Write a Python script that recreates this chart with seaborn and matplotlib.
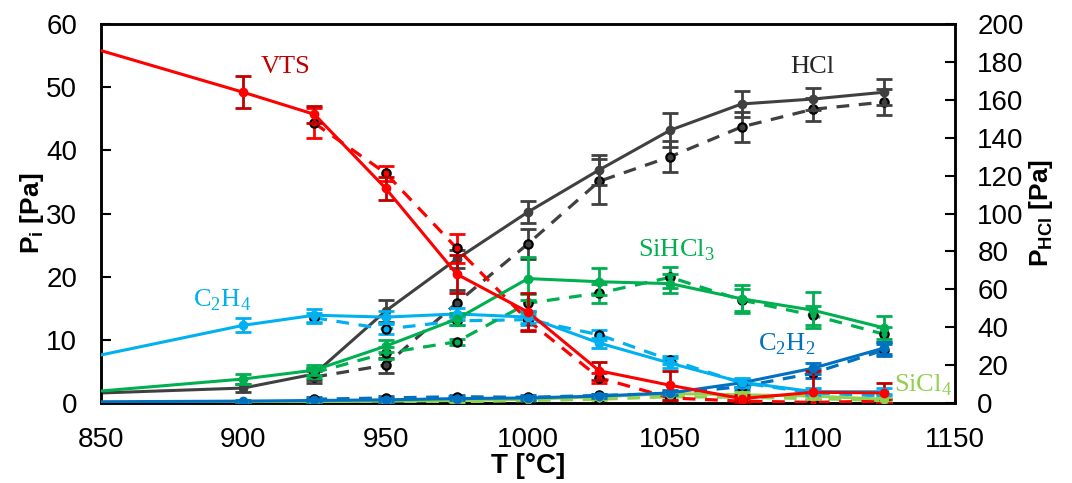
import numpy as np
import pandas as pd
import seaborn as sns
import matplotlib
matplotlib.use("Agg")
import matplotlib.pyplot as plt

# temperatures
T_model = [850, 900, 925, 950, 975, 1000, 1025, 1050, 1075, 1100, 1125]
T_exp = [925, 950, 975, 1000, 1025, 1050, 1075, 1100, 1125]

# solid series (first value at 850 has no marker)
vts = [55.8, 49.2, 45.7, 34.0, 20.4, 14.4, 5.1, 2.8, 0.7, 1.7, 1.6]
vts_err = [0, 2.5, 1.3, 1.8, 3.0, 3.0, 1.4, 2.3, 0.5, 3.3, 1.6]
c2h4 = [7.6, 12.3, 13.9, 13.6, 14.1, 13.6, 9.5, 6.3, 3.3, 1.8, 1.8]
c2h4_err = [0, 1.1, 1.0, 1.0, 0.9, 0.9, 0.8, 0.8, 0.7, 0.5, 0.5]
sihcl3 = [1.9, 3.8, 5.2, 9.0, 13.3, 19.7, 19.2, 18.9, 16.5, 14.7, 11.9]
sihcl3_err = [0, 0.8, 0.8, 1.0, 1.0, 3.4, 2.1, 1.5, 2.2, 2.9, 1.8]
c2h2 = [0.2, 0.3, 0.4, 0.5, 0.7, 0.8, 1.1, 1.6, 3.2, 5.5, 8.7]
c2h2_err = [0, 0.2, 0.3, 0.3, 0.3, 0.3, 0.3, 0.4, 0.6, 0.9, 0.9]
sicl4 = [0.1, 0.1, 0.2, 0.3, 0.4, 0.6, 1.0, 1.5, 1.3, 1.1, 0.6]
sicl4_err = [0, 0.2, 0.2, 0.2, 0.2, 0.2, 0.3, 0.3, 0.4, 0.4, 0.4]
hcl = [5.3, 7.9, 15.3, 48.5, 76.0, 100.8, 123.0, 144.0, 157.8, 160.4, 164.0]
hcl_err = [0, 2, 3, 6, 5, 6, 8, 9, 7, 6, 7]

# dashed series
vts_d = [44.3, 36.4, 24.5, 13.1, 4.0, 0.8, 0.3, 0.1, 0.3]
vts_d_err = [2.4, 1.2, 2.3, 1.5, 0.8, 0.7, 0.4, 0.4, 0.4]
c2h4_d = [13.5, 11.7, 13.0, 13.2, 10.8, 6.8, 3.2, 1.6, 1.1]
c2h4_d_err = [0.8, 0.8, 0.6, 0.8, 0.8, 0.6, 0.6, 0.4, 0.4]
sihcl3_d = [4.8, 7.9, 9.7, 15.8, 17.4, 19.9, 16.3, 13.9, 10.9]
sihcl3_d_err = [0.8, 1.0, 0.5, 1.4, 1.5, 1.7, 1.8, 1.5, 1.2]
c2h2_d = [0.6, 0.8, 1.0, 0.9, 1.2, 1.5, 2.6, 4.7, 8.4]
c2h2_d_err = [0.3, 0.3, 0.3, 0.3, 0.3, 0.4, 0.5, 0.7, 0.9]
sicl4_d = [0.1, 0.2, 0.2, 0.4, 0.6, 1.0, 0.9, 0.7, 0.4]
sicl4_d_err = [0.2, 0.2, 0.2, 0.2, 0.2, 0.3, 0.3, 0.3, 0.3]
hcl_d = [13.7, 20.0, 52.8, 84.0, 117.0, 130.0, 145.7, 155.0, 158.8]
hcl_d_err = [3, 4, 7, 8, 12, 8, 8, 6, 7]

sns.set_style("ticks")
plt.rcParams["font.family"] = ["Liberation Sans", "DejaVu Sans"]
plt.rcParams["mathtext.fontset"] = "custom"
plt.rcParams["mathtext.rm"] = "Liberation Sans"
plt.rcParams["mathtext.bf"] = "Liberation Sans:bold"
plt.rcParams["text.color"] = "black"
plt.rcParams["axes.labelcolor"] = "black"
plt.rcParams["xtick.color"] = "black"
plt.rcParams["ytick.color"] = "black"

fig = plt.figure(figsize=(10.72, 4.83), dpi=100)
ax = fig.add_axes([0.094, 0.1656, 0.797, 0.7847])
ax2 = ax.twinx()


def draw(axis, T, y, err, color, barcolor, dashed):
    df = pd.DataFrame({"T": T, "y": y})
    if dashed:
        sns.lineplot(data=df, x="T", y="y", ax=axis, color=color, lw=2.3,
                     linestyle=(0, (4, 3)), marker="o", markersize=6,
                     markerfacecolor=color, markeredgecolor="black",
                     markeredgewidth=1.6, zorder=3)
        axis.errorbar(T, y, yerr=err, fmt="none", ecolor=barcolor,
                      elinewidth=2, capsize=6, capthick=2, zorder=2)
    else:
        sns.lineplot(data=df, x="T", y="y", ax=axis, color=color, lw=2.2, zorder=4)
        axis.errorbar(T[1:], y[1:], yerr=err[1:], fmt="o", color=color,
                      markersize=6, ecolor=barcolor, elinewidth=2,
                      capsize=6, capthick=2, zorder=4)


red, dred = "#FF0000", "#C00000"
lblue = "#00B0F0"
green = "#00B050"
blue = "#0070C0"
lgreen = "#92D050"
grey = "#404040"

draw(ax2, T_exp, hcl_d, hcl_d_err, grey, grey, True)
draw(ax2, T_model, hcl, hcl_err, grey, grey, False)
for yv, ev, c in [
    (sicl4_d, sicl4_d_err, lgreen),
    (c2h2_d, c2h2_d_err, blue),
    (c2h4_d, c2h4_d_err, lblue),
    (sihcl3_d, sihcl3_d_err, green),
    (vts_d, vts_d_err, red),
]:
    draw(ax, T_exp, yv, ev, c, c, True)
for yv, ev, c, bc in [
    (sicl4, sicl4_err, lgreen, lgreen),
    (c2h2, c2h2_err, blue, blue),
    (c2h4, c2h4_err, lblue, lblue),
    (sihcl3, sihcl3_err, green, green),
    (vts, vts_err, red, dred),
]:
    draw(ax, T_model, yv, ev, c, bc, False)

# make left axis draw over the twin axis
ax.set_zorder(ax2.get_zorder() + 1)
ax.patch.set_visible(False)

ax.set_xlim(850, 1150)
ax.set_ylim(0, 60)
ax2.set_ylim(0, 200)
ax.set_xticks(range(850, 1151, 50))
ax.set_yticks(range(0, 61, 10))
ax2.set_yticks(range(0, 201, 20))
ax.tick_params(axis="x", length=0, labelsize=20, pad=17)
ax.tick_params(axis="y", direction="in", length=7, width=1.5, labelsize=20, pad=17)
ax2.tick_params(axis="y", direction="in", length=7, width=1.5, labelsize=20, pad=16)
for a in (ax, ax2):
    for s in a.spines.values():
        s.set_visible(True)
        s.set_linewidth(1.8)
        s.set_color("black")

ax.set_xlabel("T [°C]", fontsize=20, fontweight="bold", labelpad=0)
ax.set_ylabel(r"$\mathbf{P_{i}}$ [Pa]", fontsize=19, fontweight="bold", labelpad=0)
ax2.set_ylabel(r"$\mathbf{P_{HCl}}$ [Pa]", fontsize=19, fontweight="bold", labelpad=2)

lab = dict(fontsize=19, family=["Liberation Serif", "DejaVu Serif"], va="center")
ax.text(915, 53.2, "VTS", color=dred, ha="center", **lab)
ax.text(1100, 53.2, "HCl", color="#262626", ha="center", **lab)
ax.text(1052, 24.2, "SiHCl$_\\mathregular{3}$", color=green, ha="center", **lab)
ax.text(892.5, 16.3, "C$_\\mathregular{2}$H$_\\mathregular{4}$", color=lblue, ha="center", **lab)
ax.text(1091, 9.3, "C$_\\mathregular{2}$H$_\\mathregular{2}$", color=blue, ha="center", **lab)
ax.text(1149, 2.8, "SiCl$_\\mathregular{4}$", color=lgreen, ha="right", **lab)

fig.savefig("out.png", dpi=100)
